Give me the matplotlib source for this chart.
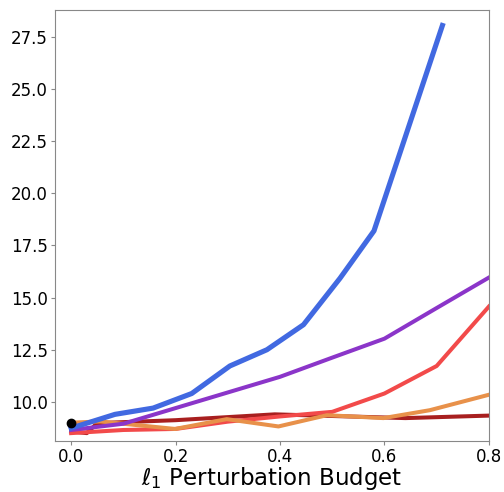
import numpy as np
import matplotlib
matplotlib.use("Agg")
import matplotlib.pyplot as plt

# values
blue_x = [0.0, 0.084, 0.157, 0.231, 0.304, 0.375, 0.445, 0.515, 0.58, 0.711]
blue_y = [8.74, 9.40, 9.70, 10.40, 11.72, 12.50, 13.70, 15.93, 18.20, 28.05]

purple_x = [0.0, 0.1, 0.2, 0.3, 0.4, 0.5, 0.6, 0.7, 0.8]
purple_y = [8.65, 8.95, 9.70, 10.45, 11.20, 12.12, 13.03, 14.50, 15.96]

red_x = [0.0, 0.1, 0.2, 0.3, 0.4, 0.5, 0.6, 0.7, 0.8]
red_y = [8.50, 8.65, 8.70, 9.05, 9.30, 9.52, 10.40, 11.72, 14.57]

orange_x = [0.0, 0.056, 0.199, 0.298, 0.397, 0.49, 0.598, 0.687, 0.8]
orange_y = [9.00, 9.06, 8.70, 9.17, 8.82, 9.36, 9.22, 9.60, 10.34]

darkred_x = [0.0, 0.03, 0.05, 0.2, 0.39, 0.6, 0.64, 0.8]
darkred_y = [8.58, 8.50, 8.98, 9.12, 9.40, 9.25, 9.22, 9.34]

clean_x = [0.0]
clean_y = [9.0]

fig = plt.figure(figsize=(5.04, 4.92), dpi=100)
ax = fig.add_axes([0.109, 0.104, 0.861, 0.876])

ax.plot(darkred_x, darkred_y, color="#a81f1f", lw=2.9)
ax.plot(red_x, red_y, color="#f24a4a", lw=2.9)
ax.plot(orange_x, orange_y, color="#e8914a", lw=2.9)
ax.plot(purple_x, purple_y, color="#8b35c9", lw=2.9)
ax.plot(blue_x, blue_y, color="#4169e1", lw=3.7)
ax.plot(clean_x, clean_y, "o", color="black", ms=6, zorder=5)

ax.set_xlim(-0.031, 0.8)
ax.set_ylim(8.13, 28.8)
ax.set_xticks([0.0, 0.2, 0.4, 0.6, 0.8])
ax.set_yticks([10.0, 12.5, 15.0, 17.5, 20.0, 22.5, 25.0, 27.5])
ax.tick_params(labelsize=12, color="#888888", length=3, pad=2)
for s in ax.spines.values():
    s.set_color("#888888")
ax.set_xlabel(r"$\ell_1$ Perturbation Budget", fontsize=16.5, labelpad=-0.8)

fig.savefig("out.png", dpi=100)
